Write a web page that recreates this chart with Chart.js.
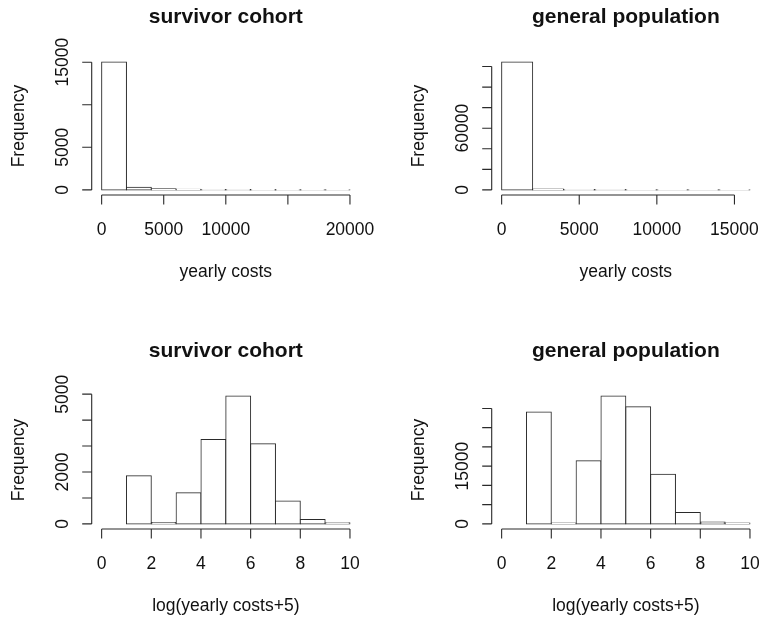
<!DOCTYPE html>
<html>
<head>
<meta charset="utf-8">
<script src="https://cdn.jsdelivr.net/npm/chart.js@4/dist/chart.umd.min.js"></script>
<style>
  html, body { margin: 0; padding: 0; background: #fff; }
  body { width: 759px; height: 619px; overflow: hidden; position: relative; }
  canvas { position: absolute; }
</style>
</head>
<body>
<canvas id="c1" width="400" height="334" style="left:0;top:0"></canvas>
<canvas id="c2" width="400" height="334" style="left:400px;top:0"></canvas>
<canvas id="c3" width="400" height="334" style="left:0;top:334px"></canvas>
<canvas id="c4" width="400" height="334" style="left:400px;top:334px"></canvas>
<script>
// ---------- data ----------
const survivorBreaks = [0, 2000, 4000, 6000, 8000, 10000, 12000, 14000, 16000, 18000, 20000];
const survivorCounts = [15010, 320, 120, 70, 50, 40, 30, 25, 20, 20];
const generalBreaks = [0, 2000, 4000, 6000, 8000, 10000, 12000, 14000, 16000];
const generalCounts = [124300, 900, 400, 300, 250, 200, 200, 150];
const logBreaks = [1, 2, 3, 4, 5, 6, 7, 8, 9, 10];
const survivorLogCounts = [1860, 50, 1205, 3255, 4925, 3090, 885, 165, 40];
const generalLogCounts = [29100, 200, 16380, 33200, 30420, 12910, 2950, 520, 200];

const survivorRawXTicks = [0, 5000, 10000, 15000, 20000];
const survivorRawXLabels = ['0', '5000', '10000', '', '20000'];
const survivorRawYTicks = [0, 5000, 10000, 15000];
const survivorRawYLabels = ['0', '5000', '', '15000'];
const generalRawXTicks = [0, 5000, 10000, 15000];
const generalRawXLabels = ['0', '5000', '10000', '15000'];
const generalRawYTicks = [0, 20000, 40000, 60000, 80000, 100000, 120000];
const generalRawYLabels = ['0', '', '', '60000', '', '', ''];
const logXTicks = [0, 2, 4, 6, 8, 10];
const logXLabels = ['0', '2', '4', '6', '8', '10'];
const survivorLogYTicks = [0, 1000, 2000, 3000, 4000, 5000];
const survivorLogYLabels = ['0', '', '2000', '', '', '5000'];
const generalLogYTicks = [0, 5000, 10000, 15000, 20000, 25000, 30000];
const generalLogYLabels = ['0', '', '', '15000', '', '', ''];

const titleSurvivor = 'survivor cohort';
const titleGeneral = 'general population';
const xTitleRaw = 'yearly costs';
const xTitleLog = 'log(yearly costs+5)';
const yTitle = 'Frequency';

// ---------- style ----------
const FONT = '"Liberation Sans", Arial, Helvetica, sans-serif';
const LINE = '#2a2a2a';
const TEXT = '#111';
const TICK = 9.5;

const rAxes = {
  id: 'rAxes',
  afterDraw(chart, args, o) {
    const ctx = chart.ctx, a = chart.chartArea, x = chart.scales.x, y = chart.scales.y;
    ctx.save();
    ctx.strokeStyle = LINE;
    ctx.lineWidth = 1.1;
    ctx.beginPath();
    const xb = a.bottom;
    ctx.moveTo(x.getPixelForValue(o.xTicks[0]), xb);
    ctx.lineTo(x.getPixelForValue(o.xTicks[o.xTicks.length - 1]), xb);
    o.xTicks.forEach(v => { const p = x.getPixelForValue(v); ctx.moveTo(p, xb); ctx.lineTo(p, xb + TICK); });
    const yl = a.left;
    ctx.moveTo(yl, y.getPixelForValue(o.yTicks[0]));
    ctx.lineTo(yl, y.getPixelForValue(o.yTicks[o.yTicks.length - 1]));
    o.yTicks.forEach(v => { const p = y.getPixelForValue(v); ctx.moveTo(yl, p); ctx.lineTo(yl - TICK, p); });
    ctx.stroke();

    ctx.fillStyle = TEXT;
    ctx.textAlign = 'center';
    ctx.textBaseline = 'alphabetic';
    ctx.font = '17.5px ' + FONT;
    o.xTicks.forEach((v, i) => { if (o.xLabels[i]) ctx.fillText(o.xLabels[i], x.getPixelForValue(v), xb + 39.5); });
    o.yTicks.forEach((v, i) => {
      if (!o.yLabels[i]) return;
      ctx.save();
      ctx.translate(yl - 24.2, y.getPixelForValue(v));
      ctx.rotate(-Math.PI / 2);
      ctx.fillText(o.yLabels[i], 0, 0);
      ctx.restore();
    });
    const cx = (a.left + a.right) / 2, cy = (a.top + a.bottom) / 2;
    ctx.fillText(o.xTitle, cx, xb + 82);
    ctx.save();
    ctx.translate(yl - 67.7, cy);
    ctx.rotate(-Math.PI / 2);
    ctx.fillText(yTitle, 0, 0);
    ctx.restore();
    ctx.font = 'bold 21px ' + FONT;
    ctx.fillText(o.title, cx, a.top - 33.8);
    ctx.restore();
  }
};

function histData(breaks, counts) {
  return counts.map((c, i) => ({ x: (breaks[i] + breaks[i + 1]) / 2, y: c }));
}

function makeHist(id, breaks, counts, xRange, xTicks, xLabels, yTicks, yLabels, title, xTitle) {
  const ymax = Math.max(...counts);
  const xspan = xRange[1] - xRange[0];
  new Chart(document.getElementById(id), {
    type: 'bar',
    data: {
      datasets: [{
        data: histData(breaks, counts),
        backgroundColor: '#ffffff',
        borderColor: LINE,
        borderWidth: 1,
        borderSkipped: false,
        inflateAmount: 0.5,
        barPercentage: 1,
        categoryPercentage: 1
      }]
    },
    options: {
      responsive: false,
      animation: false,
      devicePixelRatio: 1,
      layout: { padding: { left: 91.7, right: 40.1, top: 57, bottom: 139 } },
      plugins: {
        legend: { display: false },
        tooltip: { enabled: false },
        title: { display: false },
        rAxes: { xTicks, xLabels, yTicks, yLabels, title, xTitle }
      },
      scales: {
        x: {
          type: 'linear', offset: false, bounds: 'data',
          min: xRange[0] - 0.04 * xspan, max: xRange[1] + 0.04 * xspan,
          afterBuildTicks: s => { s.ticks = xTicks.map(v => ({ value: v })); },
          afterFit: s => { s.height = 0; },
          grid: { display: false }, border: { display: false }, ticks: { display: false }
        },
        y: {
          type: 'linear', bounds: 'data',
          min: -0.04 * ymax, max: 1.04 * ymax,
          afterBuildTicks: s => { s.ticks = yTicks.map(v => ({ value: v })); },
          afterFit: s => { s.width = 0; },
          grid: { display: false }, border: { display: false }, ticks: { display: false }
        }
      }
    },
    plugins: [rAxes]
  });
}

makeHist('c1', survivorBreaks, survivorCounts, [0, 20000], survivorRawXTicks, survivorRawXLabels,
         survivorRawYTicks, survivorRawYLabels, titleSurvivor, xTitleRaw);
makeHist('c2', generalBreaks, generalCounts, [0, 16000], generalRawXTicks, generalRawXLabels,
         generalRawYTicks, generalRawYLabels, titleGeneral, xTitleRaw);
makeHist('c3', logBreaks, survivorLogCounts, [0, 10], logXTicks, logXLabels,
         survivorLogYTicks, survivorLogYLabels, titleSurvivor, xTitleLog);
makeHist('c4', logBreaks, generalLogCounts, [0, 10], logXTicks, logXLabels,
         generalLogYTicks, generalLogYLabels, titleGeneral, xTitleLog);
</script>
</body>
</html>
